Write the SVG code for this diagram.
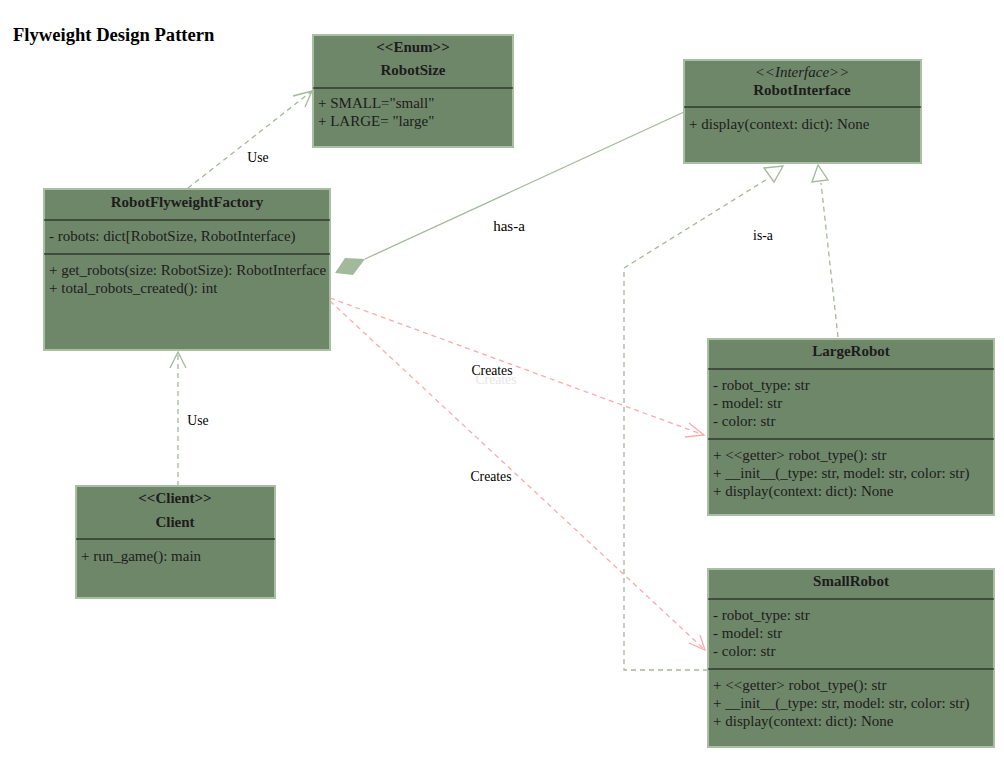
<svg xmlns="http://www.w3.org/2000/svg" width="1004" height="771" viewBox="0 0 1004 771">
<style>
.box{fill:#6f8769;stroke:#a9bfa3;stroke-width:2}
.div{stroke:#111;stroke-width:1.2}
text{font-family:"Liberation Serif","Times New Roman",serif;font-size:15px;fill:#1c1c1c}
.b{font-weight:bold}
.c{text-anchor:middle}
.lbl{fill:#000;font-size:13.7px}
.g{fill:none;stroke:#a3b99b;stroke-width:1.3;stroke-dasharray:5 4}
.p{fill:none;stroke:#ffaaaa;stroke-width:1.3;stroke-dasharray:5 4}
.ga{fill:none;stroke:#a3b99b;stroke-width:1.3}
.pa{fill:none;stroke:#ffaaaa;stroke-width:1.3}
</style>
<rect width="1004" height="771" fill="#fff"/>
<text x="13" y="41" class="b" style="font-size:18.6px;fill:#000">Flyweight Design Pattern</text>

<g id="connectors">
  <!-- Factory -> RobotSize -->
  <path class="g" d="M188,188 L312,91"/>
  <path class="ga" d="M293,96 L312,91 L305,107"/>
  <text x="258" y="162" class="lbl c">Use</text>
  <!-- Client -> Factory -->
  <path class="g" d="M178,486 L178,353"/>
  <path class="ga" d="M170,368 L178,352 L186,368"/>
  <text x="198" y="425" class="lbl c">Use</text>
  <!-- has-a -->
  <path d="M365,259 L684,112" stroke="#a3b99b" stroke-width="1.3" fill="none"/>
  <polygon points="335,273 345,258 365,259 353,275" fill="#a3b99b"/>
  <text x="509" y="231" class="lbl c" style="font-size:15px">has-a</text>
  <!-- Creates -> LargeRobot -->
  <path class="p" d="M330,298 L704,435"/>
  <path class="pa" d="M689,423 L704,435 L685,437"/>
  <text x="496" y="384" class="lbl c" style="fill:#e6e6e6">Creates</text>
  <text x="492" y="375" class="lbl c">Creates</text>
  <!-- Creates -> SmallRobot -->
  <path class="p" d="M330,301 L705,650"/>
  <path class="pa" d="M689,643 L705,650 L700,635"/>
  <text x="491" y="481" class="lbl c">Creates</text>
  <!-- SmallRobot is-a -->
  <path class="g" d="M708,670 L624,670 L624,268 L769,178"/>
  <polygon points="764,168 783,166 774,182" fill="#fff" stroke="#a3b99b" stroke-width="1.3"/>
  <!-- LargeRobot is-a -->
  <path class="g" d="M838,337 L821,183"/>
  <polygon points="818,165 812,182 828,180" fill="#fff" stroke="#a3b99b" stroke-width="1.3"/>
  <text x="763" y="240" class="lbl c">is-a</text>
</g>

<g id="RobotSize">
  <rect class="box" x="313" y="35" width="200" height="112"/>
  <text x="413" y="52" class="b c">&lt;&lt;Enum&gt;&gt;</text>
  <text x="413" y="75" class="b c">RobotSize</text>
  <line class="div" x1="313" y1="88" x2="513" y2="88"/>
  <text x="318" y="108">+ SMALL="small"</text>
  <text x="318" y="126">+ LARGE= "large"</text>
</g>

<g id="RobotInterface">
  <rect class="box" x="684" y="60" width="237" height="103"/>
  <text x="802" y="77" class="c" style="font-style:italic">&lt;&lt;Interface&gt;&gt;</text>
  <text x="802" y="95" class="b c">RobotInterface</text>
  <line class="div" x1="684" y1="107" x2="921" y2="107"/>
  <text x="689" y="129">+ display(context: dict): None</text>
</g>

<g id="RobotFlyweightFactory">
  <rect class="box" x="44" y="189" width="286" height="161"/>
  <text x="187" y="207" class="b c">RobotFlyweightFactory</text>
  <line class="div" x1="44" y1="220" x2="330" y2="220"/>
  <text x="49" y="241">- robots: dict[RobotSize, RobotInterface)</text>
  <line class="div" x1="44" y1="254" x2="330" y2="254"/>
  <text x="49" y="275">+ get_robots(size: RobotSize): RobotInterface</text>
  <text x="49" y="293">+ total_robots_created(): int</text>
</g>

<g id="Client">
  <rect class="box" x="76" y="486" width="199" height="112"/>
  <text x="175" y="503" class="b c">&lt;&lt;Client&gt;&gt;</text>
  <text x="175" y="527" class="b c">Client</text>
  <line class="div" x1="76" y1="539" x2="275" y2="539"/>
  <text x="81" y="561">+ run_game(): main</text>
</g>

<g id="LargeRobot">
  <rect class="box" x="708" y="339" width="286" height="176"/>
  <text x="851" y="356" class="b c">LargeRobot</text>
  <line class="div" x1="708" y1="369" x2="994" y2="369"/>
  <text x="713" y="390">- robot_type: str</text>
  <text x="713" y="408">- model: str</text>
  <text x="713" y="426">- color: str</text>
  <line class="div" x1="708" y1="439" x2="994" y2="439"/>
  <text x="713" y="460">+ &lt;&lt;getter&gt; robot_type(): str</text>
  <text x="713" y="478">+ __init__(_type: str, model: str, color: str)</text>
  <text x="713" y="496">+ display(context: dict): None</text>
</g>

<g id="SmallRobot">
  <rect class="box" x="708" y="569" width="286" height="178"/>
  <text x="851" y="586" class="b c">SmallRobot</text>
  <line class="div" x1="708" y1="599" x2="994" y2="599"/>
  <text x="713" y="620">- robot_type: str</text>
  <text x="713" y="638">- model: str</text>
  <text x="713" y="656">- color: str</text>
  <line class="div" x1="708" y1="669" x2="994" y2="669"/>
  <text x="713" y="690">+ &lt;&lt;getter&gt; robot_type(): str</text>
  <text x="713" y="708">+ __init__(_type: str, model: str, color: str)</text>
  <text x="713" y="726">+ display(context: dict): None</text>
</g>
</svg>
